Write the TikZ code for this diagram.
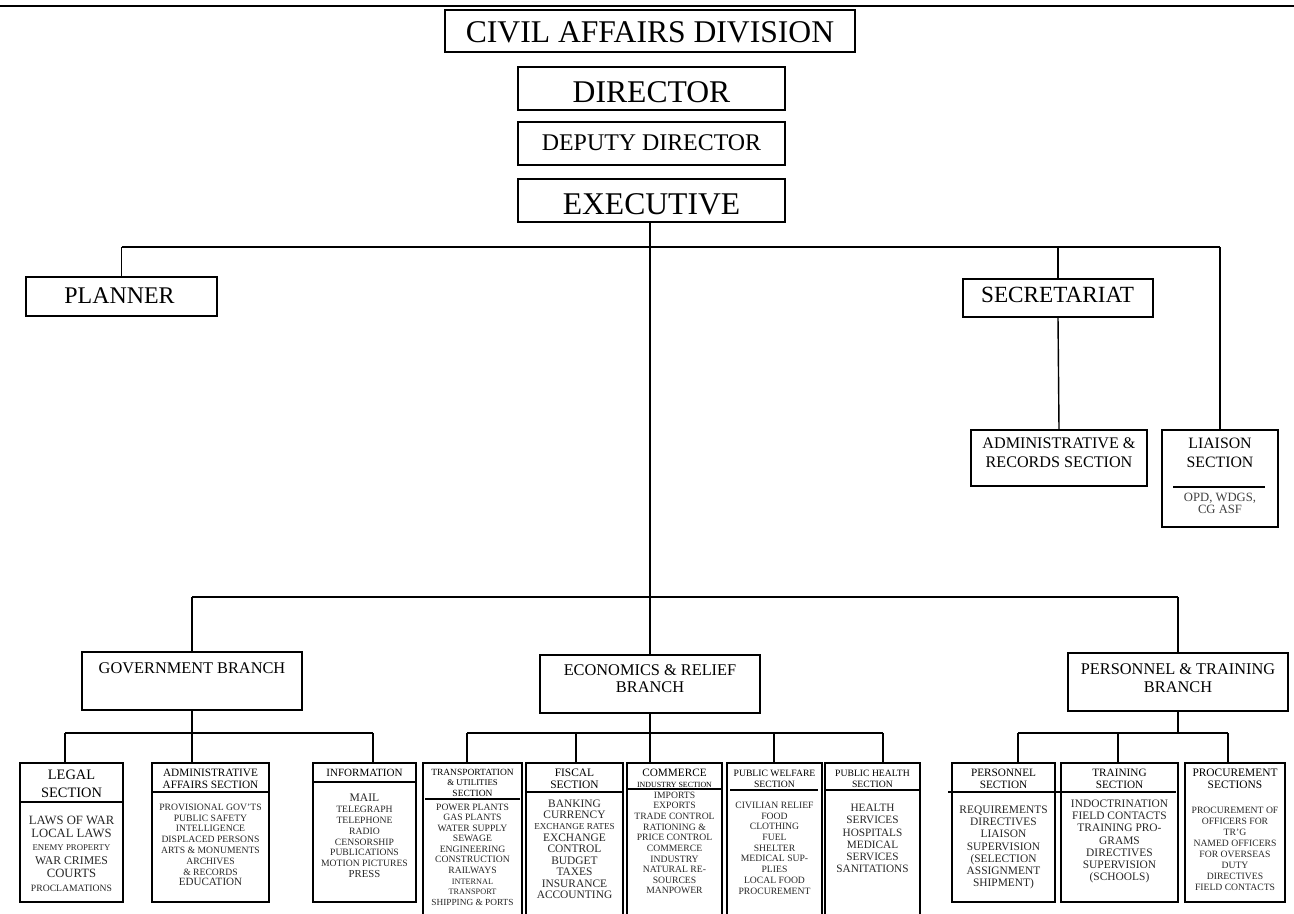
\documentclass[tikz,border=0pt]{standalone}
\usepackage{fontspec}
\setmainfont{Liberation Serif}
\usetikzlibrary{fit}
\makeatletter
\newcommand{\sz}[2]{{\fontsize{#1}{\f@baselineskip}\selectfont #2}}
\makeatother
\newcommand{\fs}[2]{\fontsize{#1}{#2}\selectfont}
\tikzset{
  box/.style={draw, line width=1pt, inner sep=0pt},
  link/.style={line width=0.8pt},
  bus/.style={line width=1.3pt},
  txt/.style={align=center, inner sep=0pt},
  body/.style={txt, text=black!85}
}
\begin{document}
\begin{tikzpicture}[x=0.02cm,y=-0.02cm]
\useasboundingbox (0,0) rectangle (1294,913);
\draw[line width=1.2pt] (0,6) -- (1294,6);
\node[box, fit={(445,10) (855,52)}] (cad) {};
\node[txt, font=\fs{18}{20}] (cadtxt) at (650,32.5) {CIVIL AFFAIRS DIVISION};
\node[box, fit={(518,67) (785,110)}] (dir) {};
\node[txt, font=\fs{18}{20}] (dirtxt) at (651.5,92) {DIRECTOR};
\node[box, fit={(518,122) (785,165)}] (dep) {};
\node[txt, font=\fs{13.6}{15}] (deptxt) at (651.5,142.5) {DEPUTY DIRECTOR};
\node[box, fit={(518,179) (785,222)}] (exec) {};
\node[txt, font=\fs{18}{20}] (exectxt) at (651.5,204.5) {EXECUTIVE};
\node[box, fit={(26,277) (217,316)}] (plan) {};
\node[txt, font=\fs{13.6}{15}] (plantxt) at (119.5,295.5) {PLANNER};
\node[box, fit={(963,279) (1153,317)}] (secr) {};
\node[txt, font=\fs{13.2}{15}] (secrtxt) at (1057.5,294.5) {SECRETARIAT};
\node[box, fit={(971,430) (1147,486)}] (adrec) {};
\node[txt, font=\fs{9.2}{10.8}] (adrectxt) at (1059,452.5) {ADMINISTRATIVE \&\\RECORDS SECTION};
\node[box, fit={(1162,430) (1278,527)}] (liais) {};
\node[txt, font=\fs{9}{10.8}] (liaistxt) at (1220,452.5) {LIAISON\\SECTION};
\draw[link] (1173,487) -- (1265,487);
\node[body, text=black!75, font=\fs{7.2}{6.8}] (liaisbody) at (1220,503) {OPD, WDGS,\\CG ASF};

\node[box, fit={(82,652) (302,710)}] (gov) {};
\node[txt, font=\fs{9.3}{9.9}] (govtxt) at (192,668) {GOVERNMENT BRANCH};
\node[box, fit={(540,655) (760,713)}] (econ) {};
\node[txt, font=\fs{9.3}{9.9}] (econtxt) at (650,678.5) {ECONOMICS \& RELIEF\\BRANCH};
\node[box, fit={(1068,653) (1288,711)}] (pers) {};
\node[txt, font=\fs{9.3}{9.9}] (perstxt) at (1178,678) {PERSONNEL \& TRAINING\\BRANCH};

\node[box, fit={(20,763) (123,902)}] (legal) {};
\node[txt, font=\fs{8.2}{10.2}] (legalhd) at (71.5,784) {LEGAL\\SECTION};
\draw[link] (legal.west |- 0,802) -- (legal.east |- 0,802);
\node[body, font=\fs{7.2}{7.6}] (legalbody) at (71.5,853.5) {LAWS OF WAR\\LOCAL LAWS\\\sz{5}{ENEMY PROPERTY}\\\sz{6.7}{WAR CRIMES}\\COURTS\\\sz{5.5}{PROCLAMATIONS}};

\node[box, fit={(152,763) (269,902)}] (admaff) {};
\node[txt, font=\fs{6.4}{6.8}] (admaffhd) at (210.5,779) {ADMINISTRATIVE\\AFFAIRS SECTION};
\draw[link] (admaff.west |- 0,792) -- (admaff.east |- 0,792);
\node[body, font=\fs{5.5}{6.15}] (admaffbody) at (210.5,845) {PROVISIONAL GOV'TS\\PUBLIC SAFETY\\INTELLIGENCE\\DISPLACED PERSONS\\ARTS \& MONUMENTS\\ARCHIVES\\\& RECORDS\\\sz{6.3}{EDUCATION}};

\node[box, fit={(313,763) (416,902)}] (info) {};
\node[txt, font=\fs{6.3}{6.8}] (infohd) at (364.5,773) {INFORMATION};
\draw[link] (info.west |- 0,782) -- (info.east |- 0,782);
\node[body, font=\fs{5.5}{6.15}] (infobody) at (364.5,836) {\sz{6.6}{MAIL}\\TELEGRAPH\\TELEPHONE\\RADIO\\CENSORSHIP\\PUBLICATIONS\\MOTION PICTURES\\\sz{6.1}{PRESS}};

\node[box, fit={(423,763) (522,925)}] (trans) {};
\node[txt, font=\fs{5.4}{6}] (transhd) at (472.5,782.5) {TRANSPORTATION\\\sz{5}{\& UTILITIES}\\SECTION};
\draw[link] (425,799) -- (520,799);
\node[body, font=\fs{5.5}{6}] (transbody) at (472.5,854.5) {POWER PLANTS\\GAS PLANTS\\WATER SUPPLY\\SEWAGE\\ENGINEERING\\CONSTRUCTION\\RAILWAYS\\\sz{4.7}{INTERNAL}\\\sz{4.7}{TRANSPORT}\\\sz{5.3}{SHIPPING \& PORTS}};

\node[box, fit={(526,763) (623,925)}] (fisc) {};
\node[txt, font=\fs{6.5}{6.8}] (fischd) at (574.5,779) {FISCAL\\SECTION};
\draw[link] (fisc.west |- 0,792) -- (fisc.east |- 0,792);
\node[body, font=\fs{6.5}{6.5}] (fiscbody) at (574.5,849) {BANKING\\CURRENCY\\\sz{5.2}{EXCHANGE RATES}\\EXCHANGE\\CONTROL\\BUDGET\\TAXES\\INSURANCE\\ACCOUNTING};

\node[box, fit={(627,763) (722,925)}] (comm) {};
\node[txt, font=\fs{6.4}{6.2}] (commhd) at (674.5,778.5) {COMMERCE\\\sz{4.5}{INDUSTRY SECTION}};
\draw[link] (comm.west |- 0,789) -- (comm.east |- 0,789);
\node[body, font=\fs{5.5}{6.05}] (commbody) at (674.5,843) {IMPORTS\\EXPORTS\\TRADE CONTROL\\RATIONING \&\\PRICE CONTROL\\COMMERCE\\INDUSTRY\\NATURAL RE-\\SOURCES\\MANPOWER};

\node[box, fit={(727,763) (822,925)}] (welf) {};
\node[txt, font=\fs{5.5}{6.2}] (welfhd) at (774.5,778.5) {PUBLIC WELFARE\\SECTION};
\draw[link] (730,790) -- (818,790);
\node[body, font=\fs{5.5}{6.1}] (welfbody) at (774.5,848) {CIVILIAN RELIEF\\FOOD\\CLOTHING\\FUEL\\SHELTER\\MEDICAL SUP-\\PLIES\\LOCAL FOOD\\PROCUREMENT};

\node[box, fit={(825,763) (920,925)}] (health) {};
\node[txt, font=\fs{5.5}{6.2}] (healthhd) at (872.5,778.5) {PUBLIC HEALTH\\SECTION};
\draw[link] (health.west |- 0,790) -- (health.east |- 0,790);
\node[body, font=\fs{6.4}{6.9}] (healthbody) at (872.5,838.5) {HEALTH\\SERVICES\\HOSPITALS\\MEDICAL\\SERVICES\\SANITATIONS};

\node[box, fit={(952,763) (1055,902)}] (perssec) {};
\node[txt, font=\fs{6.4}{6.8}] (perssechd) at (1003.5,779) {PERSONNEL\\SECTION};
\draw[link] (948,792) -- (1060,792);
\node[body, font=\fs{6.5}{6.9}] (perssecbody) at (1003.5,847.5) {REQUIREMENTS\\DIRECTIVES\\LIAISON\\SUPERVISION\\(SELECTION\\ASSIGNMENT\\SHIPMENT)};

\node[box, fit={(1061,763) (1178,902)}] (train) {};
\node[txt, font=\fs{6.4}{6.8}] (trainhd) at (1119.5,779) {TRAINING\\SECTION};
\draw[link] (1058,792) -- (1176,792);
\node[body, font=\fs{6.5}{6.9}] (trainbody) at (1119.5,841.5) {INDOCTRINATION\\FIELD CONTACTS\\TRAINING PRO-\\GRAMS\\DIRECTIVES\\SUPERVISION\\(SCHOOLS)};

\node[box, fit={(1185,763) (1285,902)}] (proc) {};
\node[txt, font=\fs{6.5}{6.8}] (prochd) at (1235,779) {PROCUREMENT\\SECTIONS};
\node[body, font=\fs{5.5}{6.3}] (procbody) at (1235,849) {PROCUREMENT OF\\OFFICERS FOR\\TR'G\\NAMED OFFICERS\\FOR OVERSEAS\\DUTY\\DIRECTIVES\\FIELD CONTACTS};

\coordinate (topbus) at (650,247);
\draw[link] (econ.north |- exec.south) -- (econ.north);
\draw[bus] (plan.north |- topbus) -- (liais.north |- topbus);
\draw[link] (plan.north |- topbus) -- (plan.north);
\draw[link] (secr.north |- topbus) -- (secr.north);
\draw[link] (liais.north |- topbus) -- (liais.north);
\draw[link] (secr.south) -- (adrec.north);

\coordinate (brbus) at (650,597);
\draw[bus] (gov.north |- brbus) -- (pers.north |- brbus);
\draw[link] (gov.north |- brbus) -- (gov.north);
\draw[link] (pers.north |- brbus) -- (pers.north);

\coordinate (gA) at (65,733);
\coordinate (gC) at (373,733);
\draw[bus] (gA) -- (gC);
\draw[link] (gA) -- (gA |- legal.north);
\draw[link] (gov.south) -- (gov.south |- admaff.north);
\draw[link] (gC) -- (gC |- info.north);

\coordinate (eA) at (467,733);
\coordinate (eB) at (576,733);
\coordinate (eD) at (774,733);
\coordinate (eE) at (883,733);
\draw[bus] (eA) -- (eE);
\draw[link] (eA) -- (eA |- trans.north);
\draw[link] (eB) -- (eB |- fisc.north);
\draw[link] (econ.south) -- (econ.south |- comm.north);
\draw[link] (eD) -- (eD |- welf.north);
\draw[link] (eE) -- (eE |- health.north);

\coordinate (pA) at (1018,733);
\coordinate (pB) at (1118,733);
\coordinate (pC) at (1228,733);
\draw[bus] (pA) -- (pC);
\draw[link] (pers.south) -- (pers.south |- pA);
\draw[link] (pA) -- (pA |- perssec.north);
\draw[link] (pB) -- (pB |- train.north);
\draw[link] (pC) -- (pC |- proc.north);
\end{tikzpicture}
\end{document}
